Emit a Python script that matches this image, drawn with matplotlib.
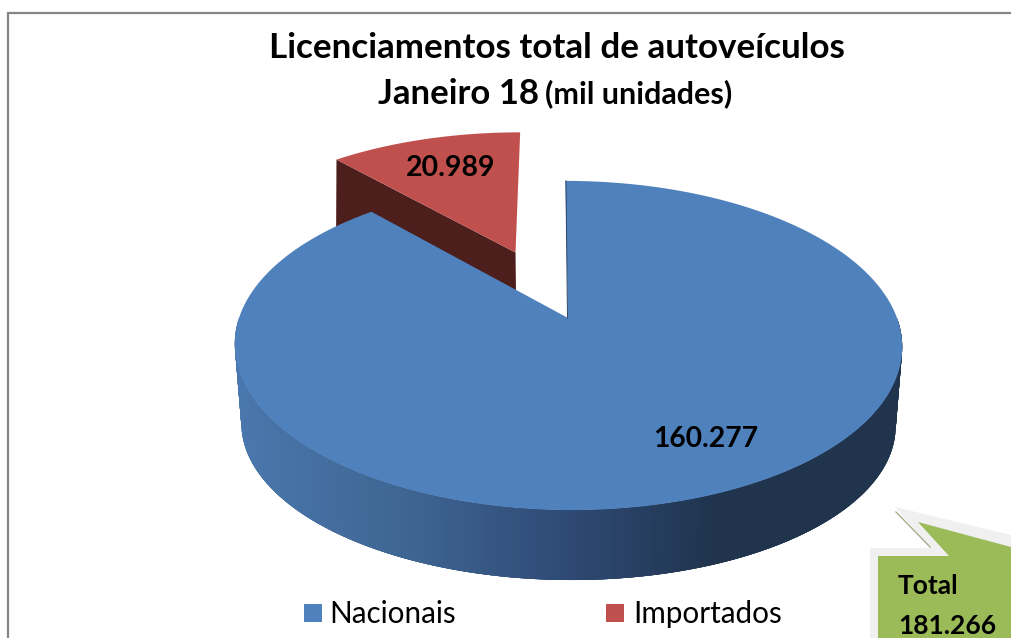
import numpy as np
import matplotlib
matplotlib.use('Agg')
import matplotlib.pyplot as plt
from matplotlib.collections import PolyCollection
from matplotlib.colors import LinearSegmentedColormap

categories = ['Nacionais', 'Importados']
values = [160.277, 20.989]
total = 181.266

BLUE = '#4f81bd'
RED = '#c0504d'
RED_DARK = '#4c1f1d'
GREEN = '#9bbb59'
plt.rcParams['font.family'] = ['Lato', 'DejaVu Sans']


def project(x, y, bottom=False):
    # perspective view of the unit disc, returns pixel coordinates
    k = 0.167
    w = 1 + k * y
    if bottom:
        return 568 + (322.5 * x - 3 * y) / w, 399 - 150.8 * y / w
    return 568 + (329 * x - 3 * y) / w, 318 - 160 * y / w


def edge(t, off=(0, 0), bottom=False):
    return project(np.sin(t) + off[0], np.cos(t) + off[1], bottom)


def wedge(t0, t1, off=(0, 0), bottom=False):
    t = np.linspace(t0, t1, 300)
    ex, ey = edge(t, off, bottom)
    ax_, ay_ = project(off[0], off[1], bottom)
    return np.r_[ax_, ex], np.r_[ay_, ey]


fig = plt.figure(figsize=(10.11, 6.38), dpi=100)
ax = fig.add_axes([0, 0, 1, 1])
ax.set_xlim(0, 1011)
ax.set_ylim(638, 0)
ax.axis('off')

ax.plot([8, 8, 1011], [638, 13, 13], color='#868686', lw=1.6, solid_joinstyle='miter')

split = 2 * np.pi * values[0] / total
mid = (split + 2 * np.pi) / 2
off = (0.47 * np.sin(mid), 0.47 * np.cos(mid))

# imported slice, pulled out behind the main one
tx, ty = edge(split, off)
bx, by = edge(split, off, True)
ax0, ay0 = project(off[0], off[1])
ax1, ay1 = project(off[0], off[1], True)
ax.fill([ax0, tx, bx - 5, ax1], [ay0, ty, by, ay1], color=RED_DARK, lw=0)
ax.fill(*wedge(split, 2 * np.pi, off), color=RED, lw=0)

# side of the main slice, only the part that faces the viewer
side_cmap = LinearSegmentedColormap.from_list(
    'side', [(0, '#4a77ad'), (0.25, '#3f6693'), (0.5, '#2e4a74'), (0.72, '#20344e'), (1, '#20344e')])
t = np.linspace(np.pi / 2, 3 * np.pi / 2, 500)
topx, topy = edge(t)
botx, boty = edge(t, bottom=True)
quads = [[(topx[i], topy[i]), (topx[i + 4], topy[i + 4]), (botx[i + 4], boty[i + 4]), (botx[i], boty[i])]
         for i in range(len(t) - 4)]
shade = side_cmap((topx[:-4] - 235) / 668)
ax.add_collection(PolyCollection(quads, facecolors=shade, edgecolors='none', linewidths=0))

ax.fill(*wedge(0, split), color=BLUE, lw=0)
# thin dark cut face at twelve o'clock
ax.plot([edge(0)[0] + 0.5, project(0, 0)[0] - 0.5], [edge(0)[1], project(0, 0)[1]], color='#2b4464', lw=0.7)

ax.text(557, 48, 'Licenciamentos total de autoveículos', fontsize=25.2, fontweight='bold', ha='center', va='center')
ax.text(378, 94, 'Janeiro 18', fontsize=25, fontweight='bold', ha='left', va='center')
ax.text(545, 94, '(mil unidades)', fontsize=22, fontweight='bold', ha='left', va='center')

ax.text(451, 168, f'{values[1]:.3f}', fontsize=20.5, fontweight='bold', ha='center', va='center')
ax.text(706, 439, f'{values[0]:.3f}', fontsize=20.3, fontweight='bold', ha='center', va='center')

# legend
for name, col, sx, tx_ in zip(categories, [BLUE, RED], [304, 606], [329, 633]):
    ax.fill([sx, sx + 18, sx + 18, sx], [604, 604, 622, 622], color=col, lw=0)
    ax.text(tx_, 614, name, fontsize=21.3, ha='left', va='center')

# callout
ax.fill([870, 870, 930, 895, 1011, 1011], [638, 548, 548, 507, 535, 638], color='#f0f0f0', lw=0)
ax.plot([896, 930], [512, 547], color='#a8ad8a', lw=1)
ax.fill([878, 878, 949, 918, 1011, 1011], [638, 556, 556, 522, 547, 638], color=GREEN, lw=0)
ax.text(898, 586, 'Total', fontsize=19, fontweight='bold', ha='left', va='center')
ax.text(898, 626, f'{total:.3f}', fontsize=19, fontweight='bold', ha='left', va='center')

fig.savefig('out.png', dpi=100, facecolor='white')
